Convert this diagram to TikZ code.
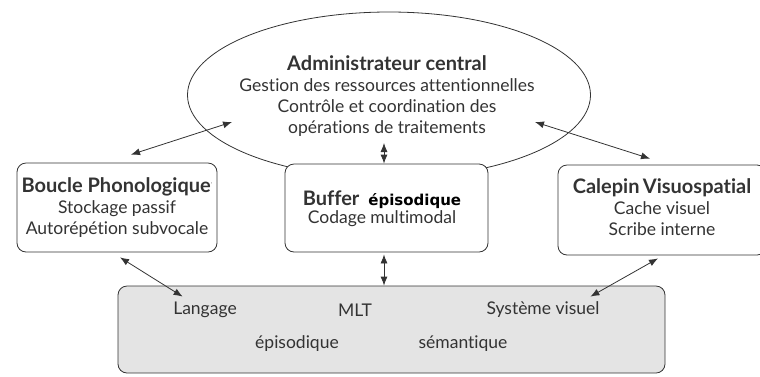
\documentclass[tikz,border=0pt]{standalone}
\usepackage{fontspec}
\setmainfont{Lato}[Ligatures=NoCommon]
\newfontfamily\epifont{DejaVu Sans}
\usetikzlibrary{shapes.geometric,arrows.meta}
\definecolor{inkgray}{HTML}{333333}
\definecolor{mltgray}{HTML}{E4E4E4}

\newcommand{\bigbf}[1]{{\fontsize{20}{21}\selectfont\bfseries #1}}

\tikzset{
  memobox/.style={draw=inkgray,line width=0.8pt,rounded corners=9pt,fill=white,
    align=center,inner sep=0pt},
  arr/.style={{Latex[length=9pt,width=7pt]}-{Latex[length=9pt,width=7pt]},
    draw=inkgray,line width=0.8pt},
  txt/.style={text=inkgray,font=\fontsize{17.5}{21}\selectfont}
}

\begin{document}
\begin{tikzpicture}[x=1pt,y=-1pt]
  \useasboundingbox (0,0) rectangle (760,376);
  % administrateur central
  \node[ellipse,draw=inkgray,line width=0.8pt,minimum width=403pt,minimum height=166pt,
    inner sep=0pt] (admin) at (389,95) {};
  \node[txt,align=center] (admintext) at (387,96)
    {\bigbf{Administrateur central}\\Gestion des ressources attentionnelles\\
     Contr\^ole et coordination des\\op\'erations de traitements};
  % les trois systemes esclaves
  \node[memobox,txt,minimum width=200pt,minimum height=89pt] (boucle) at (117,207.5)
    {\bigbf{Boucle Phonologique}\textsuperscript{\tiny'}\\Stockage passif\\Autor\'ep\'etion subvocale};
  \node[memobox,minimum width=203pt,minimum height=88pt] (buffer) at (386.5,208) {};
  \node[txt,align=center] (buffertext) at (382,209)
    {\bigbf{Buffer}\ \ {\epifont\bfseries\fontsize{15}{18}\selectfont\color{black}\'episodique}\\[-3pt]Codage multimodal};
  \node[memobox,minimum width=208pt,minimum height=90pt] (calepin) at (662,210) {};
  \node[txt,align=center] (calepintext) at (662,207)
    {\bigbf{Calepin\,Visuospatial}\\Cache visuel\\Scribe interne};
  % memoire a long terme
  \node[memobox,fill=mltgray,minimum width=547pt,minimum height=87pt] (mlt) at (391.5,329.5) {};
  \node[txt] (langage) at (205,310) {Langage};
  \node[txt] (mltlabel) at (355,310) {MLT};
  \node[txt] (sysvis) at (543,310) {Syst\`eme visuel};
  \node[txt] (episod) at (297,344) {\'episodique};
  \node[txt] (semant) at (463,344) {s\'emantique};
  % fleches
  \draw[arr] ([shift={(14,-8)}]boucle.north) -- ([shift={(-157,27)}]admin.center);
  \draw[arr] ([shift={(146,27)}]admin.center) -- ([shift={(-12,-6)}]calepin.north);
  \draw[arr] ([shift={(-2.5,0)}]buffer.north) -- ([shift={(-5,48)}]admin.center);
  \draw[arr] ([shift={(-2.5,2)}]buffer.south) -- ([shift={(-7.5,0)}]mlt.north);
  \draw[arr] ([shift={(3,5)}]boucle.south) -- ([shift={(65,11)}]mlt.north west);
  \draw[arr] ([shift={(-4,3)}]calepin.south) -- ([shift={(-75,11)}]mlt.north east);
\end{tikzpicture}
\end{document}
